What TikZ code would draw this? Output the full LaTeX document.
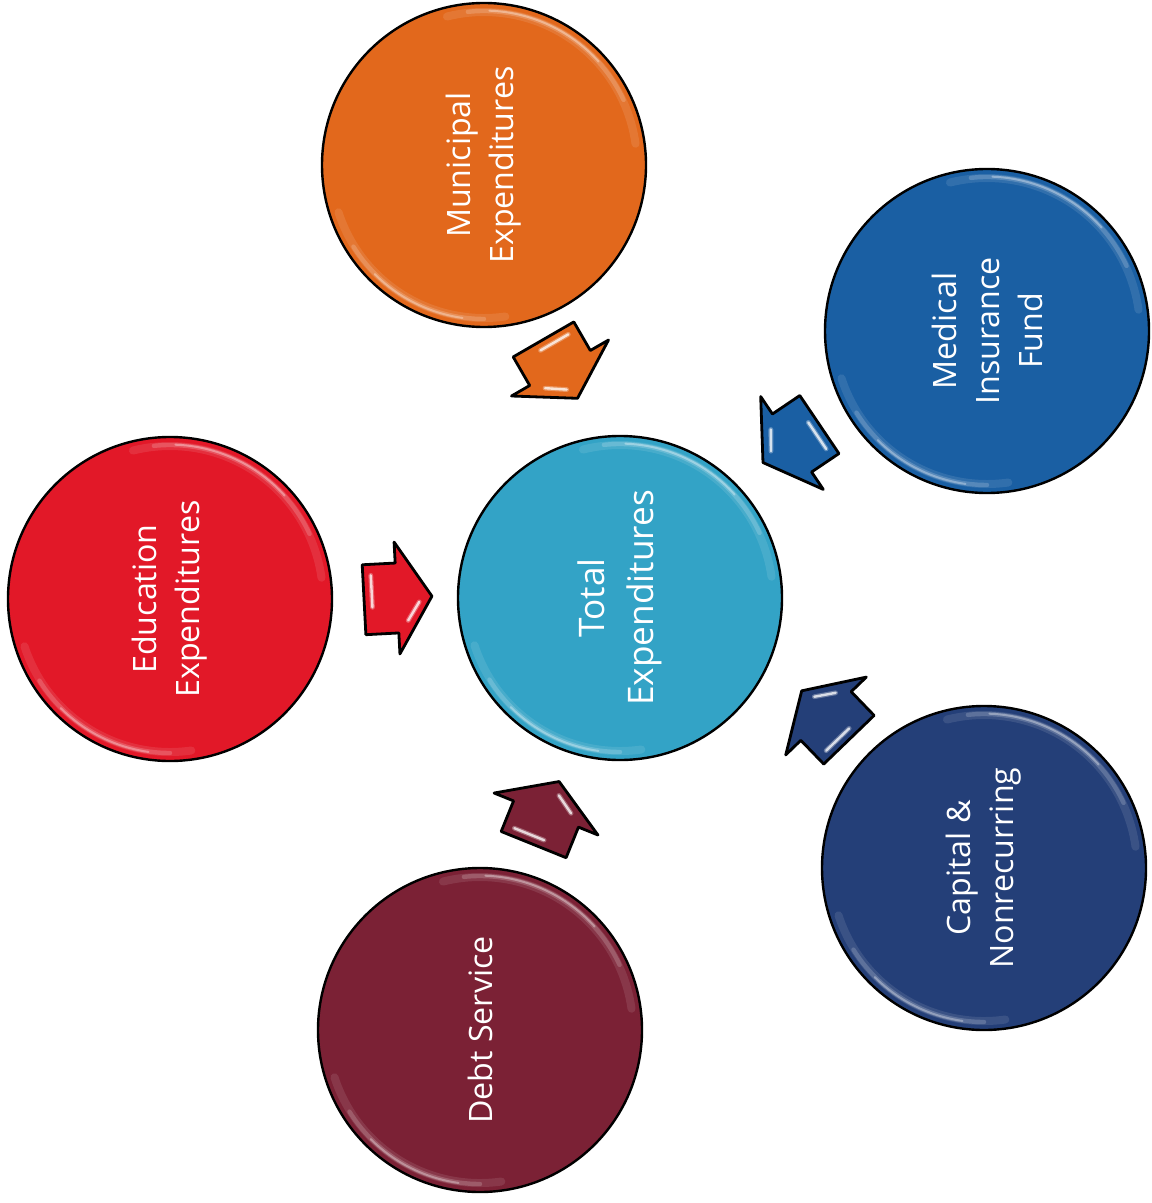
\documentclass[tikz,border=0pt]{standalone}
\usepackage{fontspec}
\setmainfont{Open Sans}
\definecolor{munC}{RGB}{226,104,28}
\definecolor{medC}{RGB}{26,95,163}
\definecolor{eduC}{RGB}{226,24,40}
\definecolor{totC}{RGB}{51,163,198}
\definecolor{capC}{RGB}{36,63,120}
\definecolor{debtC}{RGB}{123,33,53}
\begin{document}
\begin{tikzpicture}[x=0.5pt,y=-0.5pt,
  bubble/.style={circle, draw=black, line width=1.2pt, inner sep=0pt,
    minimum size=162pt, text=white, align=center, rotate=90,
    font=\fontsize{16.1}{21.5}\selectfont},
  bigbubble/.style={bubble, font=\fontsize{17.6}{24.5}\selectfont},
  glint/.style={white, line cap=round},
  blockarrow/.pic={
    \draw[fill=#1, draw=black, line width=1.4pt, line join=round]
      (35,0) -- (0,56) -- (0,35) -- (-33,35) -- (-33,-35) -- (0,-35) -- (0,-56) -- cycle;
    \draw[glint, line width=2.4pt, opacity=.3] (-25,-24) -- (-25,8);
    \draw[glint, line width=1.2pt, opacity=.75] (-25,-24) -- (-25,8);
    \draw[glint, line width=2.4pt, opacity=.3] (10,23) -- (22,5);
    \draw[glint, line width=1.2pt, opacity=.75] (10,23) -- (22,5);
  }]
\fill[white] (0,0) rectangle (1151,1203);
\useasboundingbox (0,0) rectangle (1151,1203);

% circles
\node[bubble, fill=munC]  (mun)  at (484,165)  {Municipal\\Expenditures};
\node[bubble, fill=medC]  (med)  at (987,331)  {Medical\\Insurance\\Fund};
\node[bubble, fill=eduC]  (edu)  at (170,599)  {Education\\Expenditures};
\node[bigbubble, fill=totC] (tot) at (620,598) {Total\\Expenditures};
\node[bubble, fill=capC]  (cap)  at (984,868)  {Capital \&\\Nonrecurring};
\node[bubble, fill=debtC] (debt) at (480,1030) {Debt Service};

% glossy rim highlights, soft outer band with a brighter core
\foreach \n in {mun,med,edu,tot,cap,debt} {
  \draw[glint, line width=4pt, opacity=.10]
    ([shift={(8:76.5pt)}]\n.center) arc[start angle=8, end angle=104, radius=76.5pt];
  \draw[glint, line width=2.2pt, opacity=.18]
    ([shift={(25:77pt)}]\n.center) arc[start angle=25, end angle=96, radius=77pt];
  \draw[glint, line width=1pt, opacity=.35]
    ([shift={(42:77.2pt)}]\n.center) arc[start angle=42, end angle=88, radius=77.2pt];
  \draw[glint, line width=4pt, opacity=.10]
    ([shift={(198:76.5pt)}]\n.center) arc[start angle=198, end angle=278, radius=76.5pt];
  \draw[glint, line width=2.2pt, opacity=.18]
    ([shift={(212:77pt)}]\n.center) arc[start angle=212, end angle=270, radius=77pt];
  \draw[glint, line width=1pt, opacity=.32]
    ([shift={(225:77.2pt)}]\n.center) arc[start angle=225, end angle=262, radius=77.2pt];
}

% block arrows pointing into the centre
\pic (amun)  [rotate=-60] at (560,368) {blockarrow=munC};
\pic (amed)  [rotate=214] at (792,443) {blockarrow=medC};
\pic (aedu)  [rotate=3]   at (397,598) {blockarrow=eduC};
\pic (acap)  [rotate=134] at (826,716) {blockarrow=capC};
\pic (adebt) [rotate=68]  at (546,814) {blockarrow=debtC};
\end{tikzpicture}
\end{document}
